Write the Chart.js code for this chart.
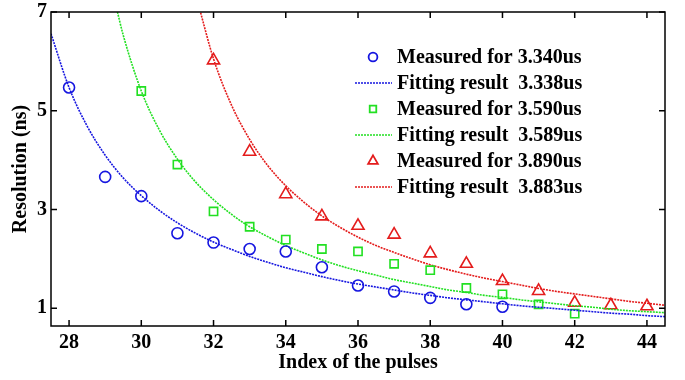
<!DOCTYPE html>
<html>
<head>
<meta charset="utf-8">
<script src="https://cdn.jsdelivr.net/npm/chart.js@4.4.1/dist/chart.umd.min.js"></script>
<style>
  html, body { margin: 0; padding: 0; background: #fff; }
  #wrap { width: 685px; height: 380px; }
</style>
</head>
<body>
<div id="wrap"><canvas id="c"></canvas></div>
<script>
// measured points
var blueX  = [28, 29, 30, 31, 32, 33, 34, 35, 36, 37, 38, 39, 40];
var blueY  = [5.47, 3.66, 3.27, 2.52, 2.33, 2.20, 2.15, 1.83, 1.46, 1.34, 1.21, 1.08, 1.03];
var greenX = [30, 31, 32, 33, 34, 35, 36, 37, 38, 39, 40, 41, 42];
var greenY = [5.40, 3.91, 2.96, 2.65, 2.39, 2.20, 2.15, 1.90, 1.77, 1.41, 1.28, 1.08, 0.89];
var redX   = [32, 33, 34, 35, 36, 37, 38, 39, 40, 41, 42, 43, 44];
var redY   = [6.02, 4.17, 3.31, 2.86, 2.67, 2.49, 2.11, 1.90, 1.55, 1.35, 1.11, 1.06, 1.04];

// fitted curves
var blueFitX = [27.5, 28, 28.5, 29, 29.5, 30, 30.5, 31, 31.5, 32, 32.5, 33, 33.5, 34, 34.5, 35, 35.5, 36,
                36.5, 37, 37.5, 38, 38.5, 39, 39.5, 40, 40.5, 41, 41.5, 42, 42.5, 43, 43.5, 44, 44.5];
var blueFitY = [6.56, 5.47, 4.69, 4.10, 3.64, 3.28, 2.98, 2.73, 2.52, 2.34, 2.19, 2.05, 1.93, 1.82, 1.73, 1.64, 1.56, 1.49,
                1.43, 1.37, 1.31, 1.26, 1.21, 1.17, 1.13, 1.09, 1.05, 1.02, 0.99, 0.96, 0.93, 0.90, 0.88, 0.85, 0.83];
var greenFitX = [29.3, 29.5, 30, 30.5, 31, 31.5, 32, 32.5, 33, 33.5, 34, 34.5, 35, 35.5, 36, 36.5, 37,
                 37.5, 38, 38.5, 39, 39.5, 40, 40.5, 41, 41.5, 42, 42.5, 43, 43.5, 44, 44.5];
var greenFitY = [7.12, 6.53, 5.40, 4.61, 4.02, 3.56, 3.20, 2.90, 2.65, 2.45, 2.27, 2.12, 1.98, 1.86, 1.76, 1.67, 1.58,
                 1.51, 1.44, 1.37, 1.32, 1.26, 1.22, 1.17, 1.13, 1.09, 1.05, 1.02, 0.98, 0.95, 0.93, 0.91];
var redFitX = [31.6, 32, 32.5, 33, 33.5, 34, 34.5, 35, 35.5, 36, 36.5, 37, 37.5, 38, 38.5, 39,
               39.5, 40, 40.5, 41, 41.5, 42, 42.5, 43, 43.5, 44, 44.5];
var redFitY = [7.10, 6.05, 5.11, 4.42, 3.89, 3.48, 3.15, 2.87, 2.64, 2.44, 2.27, 2.13, 2.00, 1.88, 1.78, 1.69,
               1.61, 1.54, 1.47, 1.40, 1.34, 1.29, 1.24, 1.19, 1.14, 1.10, 1.06];

var xTicks = [28, 30, 32, 34, 36, 38, 40, 42, 44];
var yTicks = [1, 3, 5, 7];
var labels = ['Measured for 3.340us', 'Fitting result  3.338us',
              'Measured for 3.590us', 'Fitting result  3.589us',
              'Measured for 3.890us', 'Fitting result  3.883us'];

var BLUE = '#1616e0', GREEN = '#22e022', RED = '#e41c1c';
var FONT = '"Liberation Serif", "Times New Roman", serif';

function pts(xs, ys) {
	return xs.map(function (x, i) { return {x: x, y: ys[i]}; });
}

function measured(label, xs, ys, color, style, r) {
	return {
		label: label, data: pts(xs, ys), showLine: false,
		pointStyle: style, pointRadius: r, pointHoverRadius: r,
		pointBorderColor: color, pointBackgroundColor: 'rgba(0,0,0,0)', pointBorderWidth: 1.6
	};
}

function fitted(label, xs, ys, color) {
	return {
		label: label, data: pts(xs, ys), showLine: true, pointRadius: 0,
		borderColor: color, borderWidth: 1.6, borderDash: [2, 1],
		cubicInterpolationMode: 'monotone'
	};
}

// inward ticks on all four sides plus frame and legend
var frame = {
	id: 'frame',
	afterDraw: function (chart) {
		var ctx = chart.ctx, a = chart.chartArea;
		var sx = chart.scales.x, sy = chart.scales.y;
		ctx.save();
		ctx.strokeStyle = '#000';
		ctx.lineWidth = 1.5;
		ctx.strokeRect(a.left, a.top, a.right - a.left, a.bottom - a.top);
		ctx.beginPath();
		xTicks.forEach(function (v) {
			var px = sx.getPixelForValue(v);
			ctx.moveTo(px, a.bottom); ctx.lineTo(px, a.bottom - 6);
			ctx.moveTo(px, a.top); ctx.lineTo(px, a.top + 6);
		});
		yTicks.forEach(function (v) {
			var py = sy.getPixelForValue(v);
			ctx.moveTo(a.left, py); ctx.lineTo(a.left + 6, py);
			ctx.moveTo(a.right, py); ctx.lineTo(a.right - 6, py);
		});
		ctx.stroke();

		ctx.font = 'bold 20px ' + FONT;
		ctx.textBaseline = 'middle';
		chart.data.datasets.forEach(function (ds, i) {
			var y = a.top + 45 + i * 26;
			var mx = a.left + 322;
			if (ds.showLine) {
				ctx.strokeStyle = ds.borderColor;
				ctx.lineWidth = 1.6;
				ctx.setLineDash([2, 1]);
				ctx.beginPath();
				ctx.moveTo(a.left + 304, y); ctx.lineTo(a.left + 341, y);
				ctx.stroke();
				ctx.setLineDash([]);
			} else {
				ctx.strokeStyle = ds.pointBorderColor;
				ctx.fillStyle = 'rgba(0,0,0,0)';
				ctx.lineWidth = 1.8;
				Chart.helpers.drawPoint(ctx, {pointStyle: ds.pointStyle, radius: ds.pointRadius * 0.8, rotation: 0, borderWidth: 1.8}, mx, y);
			}
			ctx.fillStyle = '#000';
			ctx.fillText(ds.label, a.left + 346, y + 1);
		});
		ctx.restore();
	}
};

var tickFont = {family: FONT, size: 20, weight: 'bold', lineHeight: 0.8};
var titleFont = {family: FONT, size: 20, weight: 'bold', lineHeight: 1.1};

new Chart(document.getElementById('c'), {
	type: 'scatter',
	data: {
		datasets: [
			measured(labels[0], blueX, blueY, BLUE, 'circle', 5.5),
			fitted(labels[1], blueFitX, blueFitY, BLUE),
			measured(labels[2], greenX, greenY, GREEN, 'rect', 5.8),
			fitted(labels[3], greenFitX, greenFitY, GREEN),
			measured(labels[4], redX, redY, RED, 'triangle', 7),
			fitted(labels[5], redFitX, redFitY, RED)
		]
	},
	options: {
		responsive: true,
		maintainAspectRatio: false,
		animation: false,
		layout: {padding: {left: 0, top: 10, right: 20, bottom: 0}},
		plugins: {
			legend: {display: false},
			tooltip: {enabled: false}
		},
		scales: {
			x: {
				type: 'linear', min: 27.5, max: 44.5,
				afterBuildTicks: function (s) { s.ticks = xTicks.map(function (v) { return {value: v}; }); },
				afterFit: function (s) { s.height = 54; },
				grid: {display: false, drawTicks: false},
				border: {display: false},
				ticks: {color: '#000', font: tickFont, padding: 9, maxRotation: 0},
				title: {display: true, text: 'Index of the pulses', color: '#000', font: titleFont, padding: {top: 0, bottom: 6}}
			},
			y: {
				type: 'linear', min: 0.64, max: 7,
				afterBuildTicks: function (s) { s.ticks = yTicks.map(function (v) { return {value: v}; }); },
				afterFit: function (s) { s.width = 51; },
				grid: {display: false, drawTicks: false},
				border: {display: false},
				ticks: {color: '#000', font: tickFont, padding: 4},
				title: {display: true, text: 'Resolution (ns)', color: '#000', font: titleFont, padding: {top: 10, bottom: 0}}
			}
		}
	},
	plugins: [frame]
});
</script>
</body>
</html>
